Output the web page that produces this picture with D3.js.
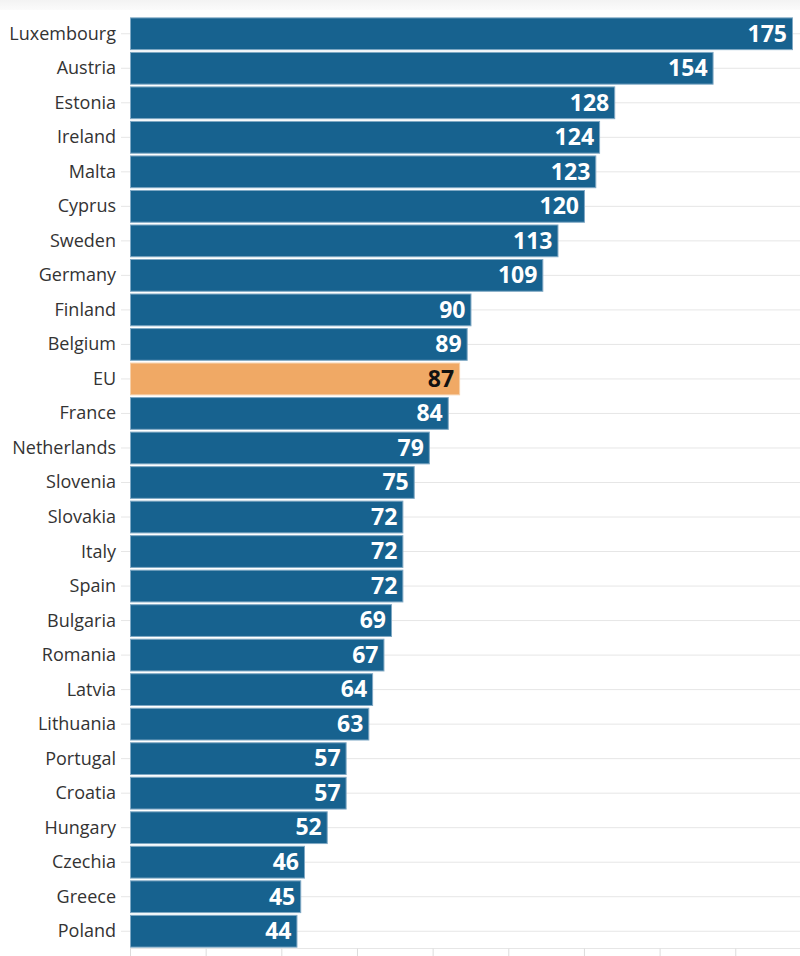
<!DOCTYPE html>
<html>
<head>
<meta charset="utf-8">
<script src="https://cdn.jsdelivr.net/npm/d3@7"></script>
<style>
  html, body { margin: 0; padding: 0; background: #fff; }
  svg { display: block; }
</style>
</head>
<body>
<script>
const countries = ["Luxembourg","Austria","Estonia","Ireland","Malta","Cyprus","Sweden","Germany","Finland","Belgium","EU","France","Netherlands","Slovenia","Slovakia","Italy","Spain","Bulgaria","Romania","Latvia","Lithuania","Portugal","Croatia","Hungary","Czechia","Greece","Poland"];
const values = [175,154,128,124,123,120,113,109,90,89,87,84,79,75,72,72,72,69,67,64,63,57,57,52,46,45,44];
const highlight = ["EU"];
const xTicks = [0,20,40,60,80,100,120,140,160];

const W = 800, H = 956;
const svg = d3.select("body").append("svg").attr("width", W).attr("height", H);

// top faint band
const defs = svg.append("defs");
const grad = defs.append("linearGradient").attr("id","topg").attr("x1",0).attr("y1",0).attr("x2",0).attr("y2",1);
grad.append("stop").attr("offset","0%").attr("stop-color","#f3f3f3");
grad.append("stop").attr("offset","100%").attr("stop-color","#fbfbfb");
svg.append("rect").attr("x",0).attr("y",0).attr("width",W).attr("height",10).attr("fill","url(#topg)");

const x = d3.scaleLinear().domain([0,175]).range([130,792]);
const y = d3.scaleBand().domain(countries).range([16,948]).paddingInner(0.08).paddingOuter(0.04);

// gridlines at band centres
svg.append("g").selectAll("line").data(countries).join("line")
  .attr("x1",121).attr("x2",W)
  .attr("y1",d=>y(d)+y.bandwidth()/2+0.5).attr("y2",d=>y(d)+y.bandwidth()/2+0.5)
  .attr("stroke","#e6e6e6").attr("stroke-width",1);

// bottom axis
const xAxis = d3.axisBottom(x).tickValues(xTicks).tickSize(8).tickFormat("");
const gx = svg.append("g").attr("transform","translate(0,948.5)").call(xAxis);
gx.select(".domain").attr("stroke","#e6e6e6").attr("d","M130,0H"+W);
gx.selectAll(".tick line").attr("stroke","#dcdcdc");

// bars
svg.append("g").selectAll("rect").data(countries).join("rect")
  .attr("x",x(0)+0.5)
  .attr("y",d=>y(d)+0.5)
  .attr("width",(d,i)=>x(values[i])-x(0))
  .attr("height",y.bandwidth())
  .attr("fill",d=>highlight.includes(d)?"#f0a965":"#17628f")
  .attr("stroke",d=>highlight.includes(d)?"#f6cfa8":"#7fa8c4")
  .attr("stroke-width",1);

// category labels
svg.append("g").selectAll("text").data(countries).join("text")
  .attr("x",116)
  .attr("y",d=>y(d)+y.bandwidth()/2)
  .attr("dy","0.36em")
  .attr("text-anchor","end")
  .attr("font-family","'Open Sans', sans-serif")
  .attr("font-size",18)
  .attr("fill","#333")
  .text(d=>d);

// value labels
svg.append("g").selectAll("text").data(countries).join("text")
  .attr("x",(d,i)=>x(values[i])-5)
  .attr("y",d=>y(d)+y.bandwidth()/2)
  .attr("dy","0.36em")
  .attr("text-anchor","end")
  .attr("font-family","'Open Sans', sans-serif")
  .attr("font-weight","bold")
  .attr("font-size",23)
  .attr("fill",d=>highlight.includes(d)?"#111":"#fff")
  .text((d,i)=>values[i]);
</script>
</body>
</html>
